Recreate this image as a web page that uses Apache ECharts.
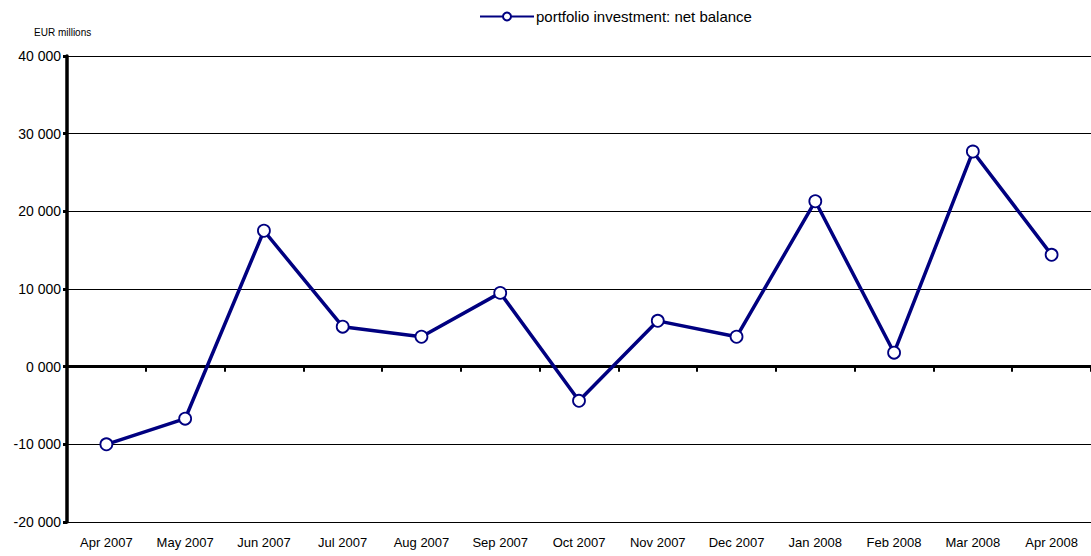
<!DOCTYPE html>
<html>
<head>
<meta charset="utf-8">
<script src="https://cdn.jsdelivr.net/npm/echarts@6/dist/echarts.min.js"></script>
<style>
  html, body { margin: 0; padding: 0; background: #fff; }
  #chart { width: 1091px; height: 556px; }
</style>
</head>
<body>
<div id="chart"></div>
<script>
const months = ["Apr 2007", "May 2007", "Jun 2007", "Jul 2007", "Aug 2007", "Sep 2007",
  "Oct 2007", "Nov 2007", "Dec 2007", "Jan 2008", "Feb 2008", "Mar 2008", "Apr 2008"];
const netBalance = [-10000, -6700, 17500, 5150, 3850, 9500, -4400, 5900, 3850, 21300, 1800, 27700, 14400];
const seriesName = "portfolio investment: net balance";

function fmt(v) {
  if (v === 0) return "0 000";
  const s = Math.abs(v).toString();
  const out = s.slice(0, -3) + " " + s.slice(-3);
  return (v < 0 ? "-" : "") + out;
}

const chart = echarts.init(document.getElementById("chart"), null, { renderer: "svg" });
chart.setOption({
  animation: false,
  textStyle: { fontFamily: "Liberation Sans, Arial, sans-serif" },
  title: {
    text: "EUR millions",
    left: 29, top: 22,
    textStyle: { fontSize: 10, fontWeight: "normal", color: "#000" }
  },
  legend: {
    top: 4, left: 474,
    itemWidth: 54, itemHeight: 10, itemGap: 2,
    textStyle: { fontSize: 15, color: "#000", padding: [0, 0, 0, -3] },
    data: [seriesName]
  },
  grid: { left: 67, right: 0, top: 56, bottom: 34, containLabel: false },
  xAxis: [
    {
      type: "category",
      data: months,
      boundaryGap: true,
      axisLine: { onZero: true, lineStyle: { color: "#000", width: 3 } },
      axisTick: { show: true, inside: false, length: 5, lineStyle: { color: "#000", width: 2 } },
      axisLabel: { show: false },
      splitLine: { show: false }
    },
    {
      type: "category",
      data: months,
      position: "bottom",
      boundaryGap: true,
      axisLine: { show: false, onZero: false },
      axisTick: { show: false },
      axisLabel: { fontSize: 13, color: "#000", margin: 14 }
    }
  ],
  yAxis: {
    type: "value",
    min: -20000, max: 40000, interval: 10000,
    axisLine: { show: true, lineStyle: { color: "#000", width: 3.5 } },
    axisTick: { show: true, length: 4, lineStyle: { color: "#000", width: 3 } },
    axisLabel: { fontSize: 14, color: "#000", margin: 6, formatter: fmt },
    splitLine: { lineStyle: { color: "#000", width: 1 } }
  },
  series: [{
    name: seriesName,
    type: "line",
    xAxisIndex: 0,
    data: netBalance,
    symbol: "circle",
    symbolSize: 12,
    showAllSymbol: true,
    lineStyle: { color: "#000080", width: 3.5 },
    itemStyle: { color: "#fff", borderColor: "#000080", borderWidth: 1.8 }
  }]
});
</script>
</body>
</html>
